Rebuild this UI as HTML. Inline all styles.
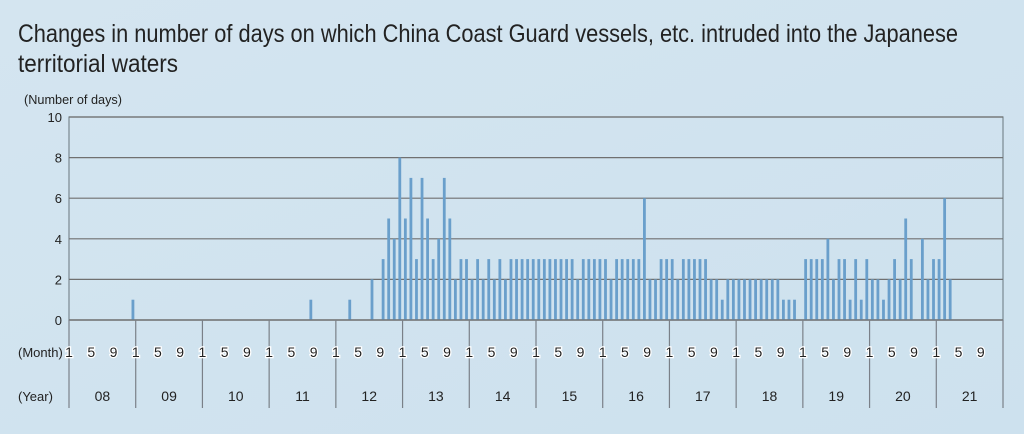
<!DOCTYPE html>
<html><head><meta charset="utf-8"><style>
html,body{margin:0;padding:0;width:1024px;height:434px;overflow:hidden;background:#d0e3ef;}
svg{display:block}
text{font-family:"Liberation Sans Narrow","Liberation Sans",sans-serif;fill:#222;}
</style></head><body>
<svg id="s" width="1024" height="434" xmlns="http://www.w3.org/2000/svg">
<defs><linearGradient id="bg" x1="0" y1="0" x2="1" y2="1"><stop offset="0" stop-color="#d4e5f0"/><stop offset="1" stop-color="#cde1ee"/></linearGradient></defs>
<rect width="1024" height="434" fill="url(#bg)"/>
<text x="18" y="42" font-size="25" textLength="940" lengthAdjust="spacingAndGlyphs">Changes in number of days on which China Coast Guard vessels, etc. intruded into the Japanese</text>
<text x="18" y="72" font-size="25" textLength="160" lengthAdjust="spacingAndGlyphs">territorial waters</text>
<text x="24" y="104" font-size="13" textLength="98" lengthAdjust="spacingAndGlyphs">(Number of days)</text>
<g id="g"></g>
</svg>
<script>
var g=document.getElementById('g'),NS='http://www.w3.org/2000/svg';
function el(t,a,txt){var e=document.createElementNS(NS,t);for(var k in a)e.setAttribute(k,a[k]);if(txt!=null)e.textContent=txt;g.appendChild(e);return e;}
var X0=69,X1=1003,Y0=320,U=20.3,M=(X1-X0)/168;
var v=new Array(168).fill(0);
v[11]=1;v[43]=1;v[50]=1;v[54]=2;
var s=[3,5,4,8,5,7,3,7,5,3,4,7,5,2,3,3,2,3,2,3,2,3,2];
for(var i=0;i<s.length;i++)v[56+i]=s[i];
for(i=79;i<=90;i++)v[i]=3;v[91]=2;for(i=92;i<=96;i++)v[i]=3;v[97]=2;for(i=98;i<=102;i++)v[i]=3;
v[103]=6;v[104]=2;v[105]=2;v[106]=3;v[107]=3;
var t=[3,2,3,3,3,3,3,2,2,1,2,2,2,2,2,2,2,2,2,2,1,1,1,0,3,3,3,3,4,2,3,3,1,3,1,3,2,2,1,2,3,2,5,3,0,4,2,3,3,6,2];
for(i=0;i<t.length;i++)v[108+i]=t[i];
// plot box
el('rect',{x:X0,y:Y0-10*U,width:X1-X0,height:10*U,fill:'none',stroke:'#7a8890','stroke-width':1.2});
for(var k=0;k<=10;k+=2){var y=Y0-k*U;el('line',{x1:X0,x2:X1,y1:y,y2:y,stroke:'#707070','stroke-width':1.2});
el('text',{x:62,y:y+5,'font-size':13,'text-anchor':'end'},String(k));}
for(i=0;i<168;i++)if(v[i]>0){var cx=X0+(i+0.5)*M;el('rect',{x:cx-1.4,y:Y0-v[i]*U,width:2.8,height:v[i]*U,fill:'#6a9fcb'});}
el('line',{x1:X0,x2:X1,y1:Y0,y2:Y0,stroke:'#707070','stroke-width':1.2});
el('text',{x:18,y:357,'font-size':13},'(Month)');
el('text',{x:18,y:401,'font-size':13},'(Year)');
var yrs=['08','09','10','11','12','13','14','15','16','17','18','19','20','21'];
for(var yi=0;yi<=14;yi++){var x=X0+yi*12*M;el('line',{x1:x,x2:x,y1:Y0,y2:408,stroke:'#7a8088','stroke-width':1.2});
if(yi<14){['1','5','9'].forEach(function(m,j){var tx=el('text',{x:x+j*4*M,y:357,'font-size':14,'text-anchor':'middle',stroke:'#fff','stroke-width':2.5,'paint-order':'stroke'},m);});
el('text',{x:x+6*M,y:401,'font-size':14,'text-anchor':'middle'},yrs[yi]);}}
</script>
</body></html>
